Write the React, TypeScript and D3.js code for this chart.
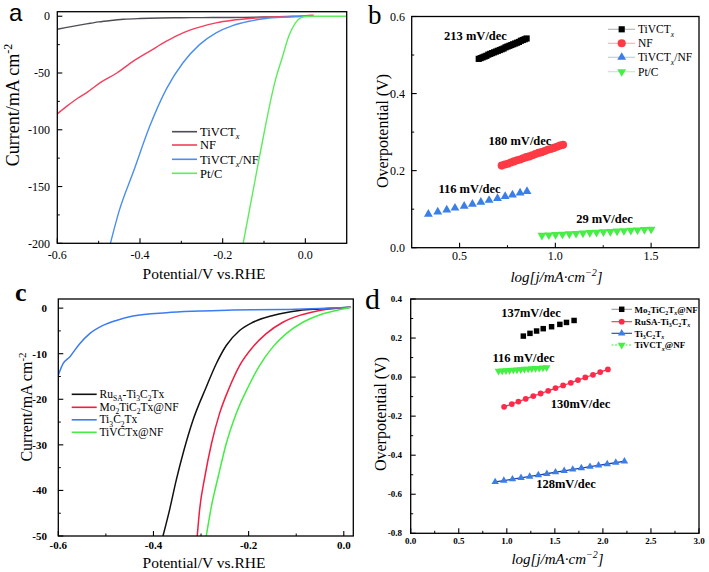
import * as d3 from 'd3'

const FONT = '"Liberation Serif", "Times New Roman", serif'

// ---- panel a: polarization curves ----
const aGrayX = [-0.6, -0.58, -0.55, -0.52, -0.5, -0.47, -0.44, -0.4, -0.35, -0.3, -0.25, -0.2, -0.15, -0.1, -0.05, 0, 0.02]
const aGrayY = [-11.5, -10, -8, -6.2, -5, -3.7, -2.7, -2, -1.5, -1.3, -1.2, -1.1, -1, -0.7, -0.4, -0.1, 0]
const aRedX = [-0.6, -0.576, -0.55, -0.528, -0.496, -0.456, -0.416, -0.376, -0.336, -0.296, -0.256, -0.216, -0.176, -0.136, -0.096, -0.05, 0, 0.02]
const aRedY = [-86, -79, -72, -67, -58.5, -50, -39.5, -30.7, -22, -14.6, -9.6, -5.8, -3.5, -2, -0.9, -0.2, 0.5, 1]
const aBlueX = [-0.475, -0.45, -0.416, -0.376, -0.336, -0.296, -0.256, -0.216, -0.176, -0.136, -0.096, -0.05, 0, 0.02]
const aBlueY = [-205, -171, -137, -96.5, -64, -41, -25, -14.6, -8.2, -4.4, -2, -0.8, -0.1, 0]
const aGreenX = [-0.153, -0.112, -0.072, -0.056, -0.04, -0.024, -0.012, 0, 0.02, 0.1]
const aGreenY = [-205, -125.7, -55.6, -36.5, -17.5, -5.8, -1.5, -0.2, 0, 0]

// ---- panel b: Tafel ----
const bBlackX = [0.6, 0.61, 0.62, 0.63, 0.64, 0.65, 0.66, 0.67, 0.68, 0.69, 0.7, 0.71, 0.72, 0.73, 0.74, 0.75, 0.76, 0.77, 0.78, 0.79, 0.8, 0.81, 0.82, 0.83, 0.84, 0.85]
const bBlackY = [0.49, 0.492, 0.494, 0.496, 0.498, 0.501, 0.503, 0.505, 0.507, 0.509, 0.511, 0.513, 0.515, 0.517, 0.52, 0.522, 0.524, 0.526, 0.528, 0.53, 0.532, 0.534, 0.537, 0.539, 0.541, 0.543]
const bRedX = [0.72, 0.736, 0.752, 0.768, 0.784, 0.8, 0.816, 0.832, 0.848, 0.864, 0.88, 0.896, 0.912, 0.928, 0.944, 0.96, 0.976, 0.992, 1.008, 1.024, 1.04]
const bRedY = [0.213, 0.216, 0.218, 0.221, 0.224, 0.227, 0.229, 0.232, 0.235, 0.237, 0.24, 0.243, 0.246, 0.248, 0.251, 0.254, 0.256, 0.259, 0.262, 0.265, 0.267]
const bBlueX = [0.337, 0.386, 0.433, 0.476, 0.524, 0.567, 0.611, 0.654, 0.698, 0.738, 0.776, 0.816, 0.852]
const bBlueY = [0.087, 0.093, 0.098, 0.103, 0.108, 0.113, 0.118, 0.123, 0.128, 0.133, 0.137, 0.142, 0.146]
const bGreenX = [0.93, 0.966, 1.001, 1.037, 1.073, 1.108, 1.144, 1.18, 1.215, 1.251, 1.287, 1.322, 1.358, 1.394, 1.429, 1.465, 1.5]
const bGreenY = [0.032, 0.033, 0.034, 0.035, 0.036, 0.037, 0.038, 0.039, 0.04, 0.041, 0.042, 0.043, 0.044, 0.045, 0.046, 0.047, 0.048]

// ---- panel c: polarization curves (comparison) ----
const cBlackX = [-0.38, -0.366, -0.352, -0.336, -0.317, -0.289, -0.268, -0.247, -0.219, -0.191, -0.149, -0.093, -0.051, 0.015]
const cBlackY = [-50, -44.2, -37.7, -31.2, -24.6, -17.3, -12.2, -8.2, -4.9, -3.1, -1.6, -0.5, -0.2, 0.2]
const cRedX = [-0.308, -0.303, -0.292, -0.278, -0.261, -0.24, -0.219, -0.191, -0.163, -0.128, -0.093, -0.051, 0.015]
const cRedY = [-50, -44.2, -37, -29.7, -23.1, -17.3, -12.6, -8.5, -5.6, -3.1, -1.6, -0.5, 0.2]
const cBlueX = [-0.6, -0.59, -0.576, -0.555, -0.534, -0.506, -0.478, -0.443, -0.373, -0.303, -0.233, -0.128, 0.015]
const cBlueY = [-14.7, -12.2, -10.7, -7.8, -5.6, -3.8, -2.7, -1.75, -1.0, -0.65, -0.4, -0.3, 0.2]
const cGreenX = [-0.289, -0.278, -0.264, -0.247, -0.226, -0.201, -0.177, -0.149, -0.121, -0.086, -0.051, -0.023, 0.015]
const cGreenY = [-50, -43.4, -37, -29.7, -23.1, -17.3, -12.6, -8.5, -5.6, -3.1, -1.5, -0.7, 0.2]

// ---- panel d: Tafel (comparison) ----
const dBlackX = [1.172, 1.241, 1.31, 1.379, 1.466, 1.552, 1.621, 1.7]
const dBlackY = [0.21, 0.224, 0.236, 0.248, 0.258, 0.27, 0.28, 0.29]
const dRedX = [0.972, 1.052, 1.121, 1.197, 1.276, 1.352, 1.431, 1.507, 1.586, 1.666, 1.741, 1.817, 1.897, 1.972, 2.052]
const dRedY = [-0.152, -0.138, -0.125, -0.111, -0.097, -0.084, -0.07, -0.056, -0.043, -0.029, -0.015, -0.002, 0.012, 0.026, 0.039]
const dBlueX = [0.879, 0.969, 1.059, 1.148, 1.238, 1.328, 1.417, 1.507, 1.597, 1.686, 1.776, 1.866, 1.955, 2.045, 2.134, 2.224]
const dBlueY = [-0.537, -0.53, -0.523, -0.516, -0.509, -0.502, -0.495, -0.487, -0.48, -0.473, -0.466, -0.459, -0.452, -0.445, -0.438, -0.431]
const dGreenX = [0.914, 0.952, 0.991, 1.029, 1.068, 1.106, 1.145, 1.183, 1.222, 1.26, 1.299, 1.337, 1.376, 1.414]
const dGreenY = [0.031, 0.032, 0.034, 0.035, 0.037, 0.038, 0.039, 0.041, 0.042, 0.044, 0.045, 0.046, 0.048, 0.049]

type Seg = [string, number?]
const zip = (xs: number[], ys: number[]) => xs.map((x, i) => [x, ys[i]] as [number, number])
const range = (a: number, b: number, s: number) => d3.range(Math.round((b - a) / s) + 1).map(i => +(a + i * s).toFixed(4))

function Rich({ segs, fs, ...rest }: any) {
  let cur = 0
  return (
    <text fontSize={fs} {...rest}>
      {segs.map(([t, k = 0]: Seg, i: number) => {
        const target = k === 1 ? 0.28 * fs : k === 2 ? -0.42 * fs : 0
        const dy = target - cur
        cur = target
        return <tspan key={i} dy={dy || undefined} fontSize={k ? fs * 0.66 : undefined} fontStyle={k === 1 && t === 'x' ? 'italic' : undefined}>{t}</tspan>
      })}
    </text>
  )
}

function Frame({ x, y, xMajor, xMinor, yMajor, yMinor, fmtX, fmtY, fs, bold, xLabY, yLabX }: any) {
  const [x0, x1] = x.range()
  const [y0, y1] = y.range()
  return (
    <g fontFamily={FONT} fontWeight={bold ? 'bold' : 'normal'}>
      <rect x={x0} y={y1} width={x1 - x0} height={y0 - y1} fill="none" stroke="#000" strokeWidth={1.3} />
      {xMajor.map((v: number) => <line key={'xM' + v} x1={x(v)} x2={x(v)} y1={y0} y2={y0 - 5} stroke="#000" strokeWidth={1.1} />)}
      {xMinor.map((v: number) => <line key={'xm' + v} x1={x(v)} x2={x(v)} y1={y0} y2={y0 - 2.5} stroke="#000" strokeWidth={1} />)}
      {yMajor.map((v: number) => <line key={'yM' + v} x1={x0} x2={x0 + 5} y1={y(v)} y2={y(v)} stroke="#000" strokeWidth={1.1} />)}
      {yMinor.map((v: number) => <line key={'ym' + v} x1={x0} x2={x0 + 2.5} y1={y(v)} y2={y(v)} stroke="#000" strokeWidth={1} />)}
      {xMajor.map((v: number) => <text key={'xl' + v} x={x(v)} y={xLabY} fontSize={fs} textAnchor="middle">{fmtX(v)}</text>)}
      {yMajor.map((v: number) => <text key={'yl' + v} x={yLabX} y={y(v)} dy="0.35em" fontSize={fs} textAnchor="end">{fmtY(v)}</text>)}
    </g>
  )
}

function Markers({ pts, x, y, type, size, fill, rot = 0 }: any) {
  const p = d3.symbol().type(type).size(size)()
  return (
    <g fill={fill}>
      {pts.map(([a, b]: number[], i: number) => <path key={i} d={p as string} transform={`translate(${x(a)},${y(b)}) rotate(${rot})`} />)}
    </g>
  )
}

const dash = (v: number) => (v === 0 ? '0' : d3.format('.0f')(v).replace('−', '-'))
const f1 = (v: number) => d3.format('.1f')(v).replace('−', '-')

export default function App() {
  // panel a
  const ax = d3.scaleLinear().domain([-0.6, 0.1]).range([57.3, 346.7])
  const ay = d3.scaleLinear().domain([-200, 4]).range([243.3, 11.7])
  const aLine = d3.line<[number, number]>().x(d => ax(d[0])).y(d => ay(d[1])).curve(d3.curveMonotoneX)
  const aSeries = [
    { pts: zip(aGrayX, aGrayY), color: '#4d4d55', label: [['TiVCT'], ['x', 1]] },
    { pts: zip(aRedX, aRedY), color: '#f2405e', label: [['NF']] },
    { pts: zip(aBlueX, aBlueY), color: '#4a8ff0', label: [['TiVCT'], ['x', 1], ['/NF']] },
    { pts: zip(aGreenX, aGreenY), color: '#5cec5c', label: [['Pt/C']] },
  ]
  const aLegY = [131.7, 145, 159.3, 173.3]

  // panel b
  const bx = d3.scaleLinear().domain([0.25, 1.75]).range([411.7, 699])
  const by = d3.scaleLinear().domain([0, 0.6]).range([247.7, 16.5])
  const bSeries = [
    { pts: zip(bBlackX, bBlackY), type: d3.symbolSquare, size: 38, fill: '#000', light: '#b8b8b8', rot: 0, label: [['TiVCT'], ['x', 1]] },
    { pts: zip(bRedX, bRedY), type: d3.symbolCircle, size: 52, fill: '#ff3a44', light: '#ffb0b8', rot: 0, label: [['NF']] },
    { pts: zip(bBlueX, bBlueY), type: d3.symbolTriangle, size: 34, fill: '#3a7fe8', light: '#b0d4f8', rot: 0, label: [['TiVCT'], ['x', 1], ['/NF']] },
    { pts: zip(bGreenX, bGreenY), type: d3.symbolTriangle, size: 34, fill: '#46ee46', light: '#b8f5b8', rot: 180, label: [['Pt/C']] },
  ]
  const bLegY = [29.3, 43.3, 57.3, 71.7]
  const bNotes = [
    { t: '213 mV/dec', x: 475.5, y: 40 },
    { t: '180 mV/dec', x: 520, y: 145 },
    { t: '116 mV/dec', x: 469.5, y: 193 },
    { t: '29 mV/dec', x: 604.5, y: 223 },
  ]

  // panel c
  const cx = d3.scaleLinear().domain([-0.6, 0.02]).range([58.3, 353.3])
  const cy = d3.scaleLinear().domain([-50, 2]).range([536, 299])
  const cLine = d3.line<[number, number]>().x(d => cx(d[0])).y(d => cy(d[1])).curve(d3.curveMonotoneX)
  const cSeries = [
    { pts: zip(cBlackX, cBlackY), color: '#111', label: [['Ru'], ['SA', 1], ['-Ti'], ['3', 1], ['C'], ['2', 1], ['Tx']] },
    { pts: zip(cRedX, cRedY), color: '#f01e42', label: [['Mo'], ['2', 1], ['TiC'], ['2', 1], ['Tx@NF']] },
    { pts: zip(cBlueX, cBlueY), color: '#3c7cf2', label: [['Ti'], ['3', 1], ['C'], ['2', 1], ['Tx']] },
    { pts: zip(cGreenX, cGreenY), color: '#44ec44', label: [['TiVCTx@NF']] },
  ]
  const cLegY = [394.3, 407.3, 419.8, 432.3]

  // panel d
  const dx = d3.scaleLinear().domain([0, 3]).range([410.7, 699])
  const dy = d3.scaleLinear().domain([-0.8, 0.4]).range([533.3, 299])
  const dLine = d3.line<[number, number]>().x(d => dx(d[0])).y(d => dy(d[1]))
  const dSeries = [
    { pts: zip(dBlackX, dBlackY), type: d3.symbolSquare, size: 30, fill: '#000', line: '#000', dash: undefined, legLine: '#999', rot: 0, label: [['Mo'], ['2', 1], ['TiC'], ['2', 1], ['T'], ['x', 1], ['@NF']] },
    { pts: zip(dRedX, dRedY), type: d3.symbolCircle, size: 26, fill: '#ff2a4a', line: '#ff2a4a', dash: undefined, legLine: '#ff2a4a', rot: 0, label: [['RuSA-Ti'], ['3', 1], ['C'], ['2', 1], ['T'], ['x', 1]] },
    { pts: zip(dBlueX, dBlueY), type: d3.symbolTriangle, size: 24, fill: '#3a7fe8', line: '#1f3fae', dash: undefined, legLine: '#1f3fae', rot: 0, label: [['Ti'], ['3', 1], ['C'], ['2', 1], ['T'], ['x', 1]] },
    { pts: zip(dGreenX, dGreenY), type: d3.symbolTriangle, size: 26, fill: '#46ee46', line: '#46ee46', dash: '2,1.5', legLine: '#46ee46', rot: 180, label: [['TiVCT'], ['x', 1], ['@NF']] },
  ]
  const dLegY = [309.3, 321.7, 333.3, 345]
  const dNotes = [
    { t: '137mV/dec', x: 531, y: 317 },
    { t: '116 mV/dec', x: 523.5, y: 361.5 },
    { t: '130mV/dec', x: 580.5, y: 407.5 },
    { t: '128mV/dec', x: 566, y: 487.5 },
  ]

  const tafelTitle = (cxp: number, yb: number) => (
    <text x={cxp} y={yb} fontFamily={FONT} fontStyle="italic" fontSize={15} textAnchor="middle">
      log[<tspan>j</tspan>/<tspan>mA·cm</tspan><tspan dy={-6} fontSize={10}>−2</tspan><tspan dy={6}>]</tspan>
    </text>
  )

  return (
    <svg width={709} height={572} style={{ position: 'absolute', left: 0, top: 0, background: '#fff' }}>
      <defs>
        <clipPath id="clipA"><rect x={57.3} y={11.7} width={289.4} height={231.6} /></clipPath>
        <clipPath id="clipC"><rect x={58.3} y={299} width={295} height={237} /></clipPath>
      </defs>
      <rect width={709} height={572} fill="#fff" />

      {/* panel a */}
      <text x={9} y={21} fontFamily='"Liberation Sans", Arial, sans-serif' fontSize={24}>a</text>
      <g clipPath="url(#clipA)" fill="none" strokeWidth={1.4}>
        {aSeries.map((s, i) => <path key={i} d={aLine(s.pts) as string} stroke={s.color} />)}
      </g>
      <Frame x={ax} y={ay} xMajor={[-0.6, -0.4, -0.2, 0]} xMinor={[-0.5, -0.3, -0.1]}
        yMajor={[0, -50, -100, -150, -200]} yMinor={[-25, -75, -125, -175]}
        fmtX={f1} fmtY={dash} fs={12} xLabY={258.5} yLabX={50} />
      <g fontFamily={FONT}>
        {aSeries.map((s, i) => (
          <g key={i}>
            <line x1={172} x2={197} y1={aLegY[i]} y2={aLegY[i]} stroke={s.color} strokeWidth={1.6} />
            <Rich segs={s.label} fs={12.5} x={200} y={aLegY[i] + 4.2} />
          </g>
        ))}
      </g>
      <text transform="translate(19,105) rotate(-90)" fontFamily={FONT} fontSize={18} textAnchor="middle">
        Current/mA cm<tspan dy={-7} fontSize={12}>-2</tspan>
      </text>
      <text x={204} y={279} fontFamily={FONT} fontSize={15.5} textAnchor="middle">Potential/V vs.RHE</text>

      {/* panel b */}
      <text x={368} y={24} fontFamily={FONT} fontSize={27}>b</text>
      {bSeries.map((s, i) => <Markers key={i} pts={s.pts} x={bx} y={by} type={s.type} size={s.size} fill={s.fill} rot={s.rot} />)}
      <Frame x={bx} y={by} xMajor={[0.5, 1, 1.5]} xMinor={[0.75, 1.25]}
        yMajor={[0, 0.2, 0.4, 0.6]} yMinor={[0.1, 0.3, 0.5]}
        fmtX={f1} fmtY={f1} fs={12} xLabY={260} yLabX={405} />
      <g fontFamily={FONT} fontWeight="bold" fontSize={12.5} textAnchor="middle">
        {bNotes.map((n, i) => <text key={i} x={n.x} y={n.y}>{n.t}</text>)}
      </g>
      <g fontFamily={FONT}>
        {bSeries.map((s, i) => (
          <g key={i}>
            <line x1={608} x2={635} y1={bLegY[i]} y2={bLegY[i]} stroke={s.light} strokeWidth={1.2} />
            <path d={d3.symbol().type(s.type).size(s.size)() as string} transform={`translate(621.7,${bLegY[i]}) rotate(${s.rot})`} fill={s.fill} />
            <Rich segs={s.label} fs={11.5} x={638} y={bLegY[i] + 4} />
          </g>
        ))}
      </g>
      <text transform="translate(388,131) rotate(-90)" fontFamily={FONT} fontSize={16} textAnchor="middle">Overpotential (V)</text>
      {tafelTitle(556.5, 282)}

      {/* panel c */}
      <text x={15} y={301} fontFamily={FONT} fontWeight="bold" fontSize={26}>c</text>
      <g clipPath="url(#clipC)" fill="none" strokeWidth={1.5}>
        {cSeries.map((s, i) => <path key={i} d={cLine(s.pts) as string} stroke={s.color} />)}
      </g>
      <Frame x={cx} y={cy} xMajor={[-0.6, -0.4, -0.2, 0]} xMinor={[-0.5, -0.3, -0.1]}
        yMajor={[0, -10, -20, -30, -40, -50]} yMinor={[-5, -15, -25, -35, -45]}
        fmtX={f1} fmtY={dash} fs={11} bold xLabY={548.5} yLabX={47} />
      <g fontFamily={FONT}>
        {cSeries.map((s, i) => (
          <g key={i}>
            <line x1={71.7} x2={96.7} y1={cLegY[i]} y2={cLegY[i]} stroke={s.color} strokeWidth={1.6} />
            <Rich segs={s.label} fs={11.5} x={99.5} y={cLegY[i] + 3.6} />
          </g>
        ))}
      </g>
      <text transform="translate(32,407) rotate(-90)" fontFamily={FONT} fontSize={16} textAnchor="middle">
        Current/mA cm<tspan dy={-6} fontSize={11}>-2</tspan>
      </text>
      <text x={204} y={568} fontFamily={FONT} fontSize={15.5} textAnchor="middle">Potential/V vs.RHE</text>

      {/* panel d */}
      <text x={365} y={309} fontFamily={FONT} fontSize={30}>d</text>
      {dSeries.map((s, i) => (
        <g key={i}>
          {i > 0 && <path d={dLine(s.pts) as string} fill="none" stroke={s.line} strokeWidth={1.3} strokeDasharray={s.dash} />}
          <Markers pts={s.pts} x={dx} y={dy} type={s.type} size={s.size} fill={s.fill} rot={s.rot} />
        </g>
      ))}
      <Frame x={dx} y={dy} xMajor={range(0, 3, 0.5)} xMinor={range(0.25, 2.75, 0.5)}
        yMajor={range(-0.8, 0.4, 0.2)} yMinor={range(-0.7, 0.3, 0.2)}
        fmtX={f1} fmtY={f1} fs={9} bold xLabY={543.5} yLabX={402} />
      <g fontFamily={FONT} fontWeight="bold" fontSize={12.5} textAnchor="middle">
        {dNotes.map((n, i) => <text key={i} x={n.x} y={n.y}>{n.t}</text>)}
      </g>
      <g fontFamily={FONT} fontWeight="bold">
        {dSeries.map((s, i) => (
          <g key={i}>
            <line x1={611.5} x2={632} y1={dLegY[i]} y2={dLegY[i]} stroke={s.legLine} strokeWidth={1.1} strokeDasharray={s.dash} />
            <path d={d3.symbol().type(s.type).size(s.size)() as string} transform={`translate(621.7,${dLegY[i]}) rotate(${s.rot})`} fill={s.fill} />
            <Rich segs={s.label} fs={9} x={634.5} y={dLegY[i] + 3.2} />
          </g>
        ))}
      </g>
      <text transform="translate(386,414) rotate(-90)" fontFamily={FONT} fontSize={16} textAnchor="middle">Overpotential (V)</text>
      {tafelTitle(557.5, 564)}
    </svg>
  )
}
